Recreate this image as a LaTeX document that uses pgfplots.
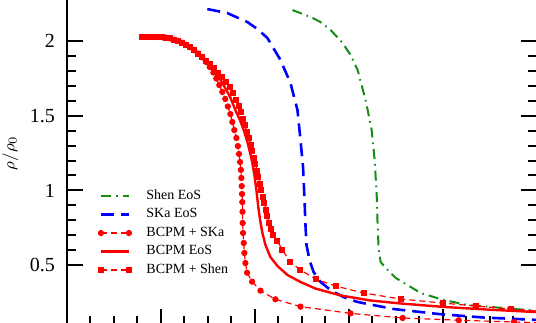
\documentclass[border=0pt]{standalone}
\usepackage{fontspec}
\setmainfont{Liberation Serif}
\usepackage{pgfplots}
\pgfplotsset{compat=1.18}
\definecolor{shengreen}{RGB}{20,140,20}
\definecolor{skablue}{RGB}{0,0,255}
\definecolor{bcpmred}{RGB}{255,0,0}
\begin{document}
\begin{tikzpicture}
\useasboundingbox (0pt,0pt) rectangle (268pt,161pt);
\begin{axis}[
  at={(33.5pt,-1.43pt)}, anchor=south west,
  scale only axis, width=235pt, height=171.8pt,
  xmin=0, xmax=5, ymin=0.1, ymax=2.4,
  xtick={0,1,2,3,4,5}, minor x tick num=3, xticklabels={},
  xtick pos=left,
  ytick={0.5,1,1.5,2}, minor y tick num=4,
  ytick pos=both,
  tick align=inside,
  major tick length=8pt, minor tick length=4.5pt,
  every tick/.style={black, line width=1pt},
  axis line style={line width=1pt},
  /pgf/number format/assume math mode=true,
  tick label style={font=\fontsize{10}{12}\selectfont},
  yticklabel style={xshift=-2.5pt},
  ylabel={$\rho/\rho_{0}$},
  ylabel style={at={(axis description cs:-0.112,0.5)}, anchor=base, font=\fontsize{8.5}{10}\selectfont},
  clip=true,
  legend cell align=left,
  legend image code/.code={\draw[#1] plot coordinates {(0pt,0pt) (14pt,0pt)};},
  legend style={at={(axis cs:0.33,1.02)}, anchor=north west, draw=none, fill=none,
    inner sep=0pt, font=\fontsize{7}{8}\selectfont,
    nodes={inner sep=1pt, text height=4.8pt, text depth=1.4pt},
    row sep=1.05pt, column sep=6.5pt},
]
% Shen EoS
\addplot[shengreen, line width=1pt, dash pattern=on 5pt off 2.5pt on 0.8pt off 2.5pt] coordinates {
(2.399,2.207) (2.591,2.161) (2.697,2.127) (2.804,2.074) (2.932,1.987) (3.017,1.906)
(3.092,1.806) (3.134,1.705) (3.177,1.605) (3.209,1.505) (3.241,1.404) (3.273,1.203)
(3.294,0.983) (3.305,0.755) (3.316,0.601) (3.337,0.521) (3.390,0.481) (3.443,0.447)
(3.497,0.414) (3.763,0.313) (4.009,0.266) (4.264,0.233) (4.510,0.220) (4.755,0.206)
(5.043,0.193)};
\addlegendentry{Shen EoS}
% SKa EoS
\addplot[skablue, line width=1.3pt, dash pattern=on 6.5pt off 3.5pt] coordinates {
(1.493,2.214) (1.706,2.187) (1.919,2.127) (2.026,2.080) (2.132,2.020) (2.271,1.873)
(2.377,1.719) (2.452,1.538) (2.484,1.337) (2.511,1.157) (2.527,0.936) (2.537,0.768)
(2.548,0.635) (2.580,0.534) (2.623,0.454) (2.697,0.387) (2.804,0.333) (2.942,0.286)
(3.092,0.253) (3.475,0.206) (3.945,0.173) (4.435,0.149) (5.000,0.133) (5.149,0.129)};
\addlegendentry{SKa EoS}
% BCPM + SKa
\addplot[bcpmred, line width=0.6pt, dash pattern=on 3pt off 2pt, mark=*, mark size=1.25pt, mark options={solid, fill=bcpmred}] coordinates {
(0.800,2.027) (0.842,2.027) (0.885,2.027) (0.928,2.027) (0.970,2.027) (1.013,2.025)
(1.055,2.022) (1.098,2.017) (1.141,2.009) (1.183,2.000) (1.226,1.989) (1.269,1.975)
(1.311,1.958) (1.354,1.938) (1.397,1.916) (1.439,1.890) (1.482,1.859) (1.519,1.826)
(1.557,1.789) (1.588,1.749) (1.620,1.705) (1.652,1.659) (1.684,1.612) (1.711,1.562)
(1.738,1.511) (1.759,1.458) (1.780,1.404) (1.802,1.351) (1.818,1.297) (1.830,1.244)
(1.841,1.190) (1.850,1.137) (1.855,1.083) (1.859,1.029) (1.862,0.976) (1.865,0.922)
(1.867,0.857) (1.869,0.782) (1.873,0.715) (1.880,0.648) (1.887,0.581) (1.898,0.514)
(1.916,0.449) (1.969,0.389) (2.058,0.329) (2.217,0.271) (2.484,0.222) (3.017,0.177)
(3.571,0.146) (4.168,0.131) (4.755,0.119) (5.341,0.109)};
\addlegendentry{BCPM + SKa}
% BCPM EoS
\addplot[bcpmred, line width=1.2pt] coordinates {
(0.789,2.027) (0.991,2.027) (1.098,2.018) (1.205,1.997) (1.311,1.960) (1.418,1.906)
(1.525,1.836) (1.610,1.766) (1.684,1.685) (1.738,1.622) (1.791,1.538) (1.844,1.465)
(1.887,1.391) (1.919,1.324) (1.951,1.244) (1.972,1.183) (1.994,1.103) (2.015,1.003)
(2.036,0.882) (2.058,0.788) (2.079,0.715) (2.111,0.635) (2.164,0.554) (2.239,0.494)
(2.345,0.434) (2.484,0.387) (2.644,0.343) (2.910,0.297) (3.230,0.263) (3.550,0.243)
(4.009,0.220) (4.510,0.201) (5.043,0.184)};
\addlegendentry{BCPM EoS}
% BCPM + Shen
\addplot[bcpmred, line width=0.6pt, dash pattern=on 3pt off 2pt, mark=square*, mark size=1.2pt, mark options={solid, fill=bcpmred}] coordinates {
(0.800,2.027) (0.842,2.027) (0.885,2.027) (0.928,2.027) (0.970,2.027) (1.013,2.025)
(1.055,2.022) (1.098,2.017) (1.141,2.009) (1.183,2.000) (1.226,1.989) (1.269,1.975)
(1.311,1.958) (1.354,1.938) (1.397,1.916) (1.439,1.890) (1.482,1.863) (1.525,1.843)
(1.567,1.819) (1.610,1.789) (1.652,1.759) (1.695,1.726) (1.738,1.689) (1.770,1.649)
(1.802,1.605) (1.828,1.565) (1.850,1.525) (1.871,1.481) (1.892,1.438) (1.914,1.394)
(1.935,1.351) (1.956,1.307) (1.972,1.264) (1.988,1.220) (2.004,1.177) (2.020,1.133)
(2.036,1.090) (2.052,1.046) (2.068,1.003) (2.084,0.959) (2.100,0.916) (2.116,0.872)
(2.132,0.829) (2.148,0.785) (2.169,0.742) (2.196,0.701) (2.239,0.661) (2.292,0.601)
(2.377,0.521) (2.484,0.467) (2.644,0.407) (2.857,0.360) (3.156,0.313) (3.550,0.273)
(3.998,0.246) (4.350,0.226) (4.723,0.206) (5.096,0.189)};
\addlegendentry{BCPM + Shen}
\end{axis}
\end{tikzpicture}
\end{document}
